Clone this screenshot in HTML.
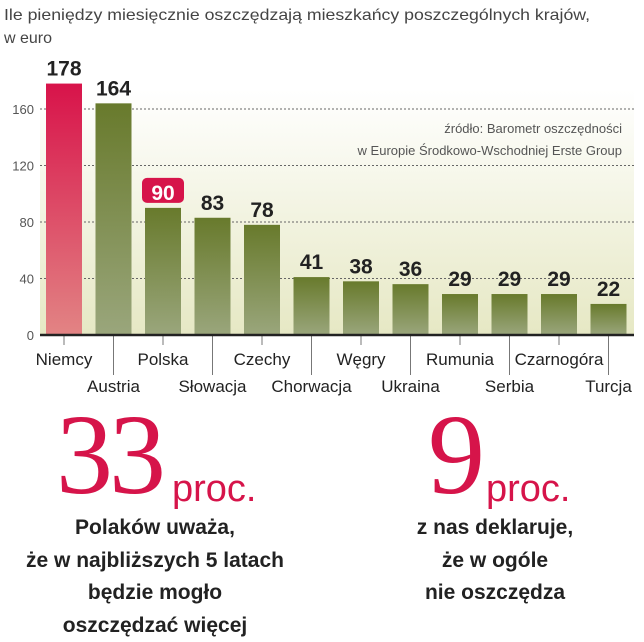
<!DOCTYPE html>
<html><head><meta charset="utf-8">
<style>
body{margin:0;width:644px;height:640px;background:#fff;overflow:hidden;font-family:"Liberation Sans Narrow","Liberation Sans",sans-serif;}
svg{position:absolute;left:0;top:0}
.big{position:absolute;color:#d6144a;font-family:"Liberation Serif",serif;font-weight:normal;}
.txt{position:absolute;font-family:"Liberation Sans Narrow","Liberation Sans",sans-serif;font-weight:bold;font-size:21px;line-height:32.5px;text-align:center;color:#222;}
</style></head><body>
<svg width="644" height="640" id="chart">
<defs>
<linearGradient id="bg" x1="0" y1="0" x2="0" y2="1"><stop offset="0" stop-color="#fff"/><stop offset="1" stop-color="#e6e8c4"/></linearGradient>
<linearGradient id="gb" x1="0" y1="0" x2="0" y2="1"><stop offset="0" stop-color="#687a2c"/><stop offset="1" stop-color="#9aa67c"/></linearGradient>
<linearGradient id="rb" x1="0" y1="0" x2="0" y2="1"><stop offset="0" stop-color="#d8134a"/><stop offset="1" stop-color="#e28484"/></linearGradient>
</defs>
<text x="4" y="20" font-size="16" fill="#444" textLength="586" lengthAdjust="spacingAndGlyphs" font-family="Liberation Sans Narrow, Liberation Sans, sans-serif">Ile pieniędzy miesięcznie oszczędzają mieszkańcy poszczególnych krajów,</text>
<text x="4" y="43" font-size="16" fill="#444" font-family="Liberation Sans Narrow, Liberation Sans, sans-serif">w euro</text>
<rect x="40" y="90" width="594" height="245" fill="url(#bg)"/>
<g id="grid"></g>
<g id="bars"></g>
<text x="622" y="133" font-size="13" fill="#555" text-anchor="end">źródło: Barometr oszczędności</text>
<text x="622" y="155" font-size="13" fill="#555" text-anchor="end">w Europie Środkowo-Wschodniej Erste Group</text>
</svg>
<div class="big" style="left:56px;top:398px;font-size:114px;line-height:114px;letter-spacing:-4px">33</div>
<div class="big" style="left:172px;top:470px;font-size:38px;line-height:38px;font-family:'Liberation Sans Narrow','Liberation Sans',sans-serif">proc.</div>
<div class="txt" style="left:20px;width:270px;top:512px">Polaków uważa,<br>że w najbliższych 5 latach<br>będzie mogło<br>oszczędzać więcej</div>
<div class="big" style="left:428px;top:398px;font-size:114px;line-height:114px">9</div>
<div class="big" style="left:486px;top:470px;font-size:38px;line-height:38px;font-family:'Liberation Sans Narrow','Liberation Sans',sans-serif">proc.</div>
<div class="txt" style="left:380px;width:230px;top:512px">z nas deklaruje,<br>że w ogóle<br>nie oszczędza</div>
<script>
const categories=["Niemcy","Austria","Polska","Słowacja","Czechy","Chorwacja","Węgry","Ukraina","Rumunia","Serbia","Czarnogóra","Turcja"];
const values=[178,164,90,83,78,41,38,36,29,29,29,22];
const ticks=[0,40,80,120,160];
const NS="http://www.w3.org/2000/svg";
const y0=335,pxPer=56.5/40;
const yS=v=>y0-v*pxPer;
const step=49.5,x0=46,bw=36;
const xS=i=>x0+i*step;
function mk(t,a,p){const e=document.createElementNS(NS,t);for(const k in a)e.setAttribute(k,a[k]);p.appendChild(e);return e;}
const grid=document.getElementById('grid'),bars=document.getElementById('bars');
ticks.forEach(t=>{
 if(t>0){const l=mk('line',{x1:40,x2:634,y1:yS(t),y2:yS(t),stroke:'#666','stroke-dasharray':'2,2','stroke-width':1},grid);
 
 }
 const tx=mk('text',{x:34,y:yS(t)+5,'font-size':13,fill:'#555','text-anchor':'end'},grid);tx.textContent=t;
 
 
});
values.forEach((v,i)=>{
 const x=xS(i);
 const r=mk('rect',{x:x,y:yS(v),width:bw,height:v*pxPer,fill:i==0?'url(#rb)':'url(#gb)'},bars);
 
 
 if(i==2){const b=mk('rect',{x:x-3,y:yS(v)-30,width:42,height:25,rx:5,fill:'#d6144a'},bars);
  
  }
 const t=mk('text',{x:x+bw/2,y:yS(v)-8,'font-size':21,'font-weight':'bold',fill:i==2?'#fff':'#222','text-anchor':'middle'},bars);
 t.textContent=v;
 
 
 const cx=x+bw/2,odd=i%2==1;
 const tk=mk('line',{x1:cx,x2:cx,y1:y0,y2:odd?375:345,stroke:'#777','stroke-width':1},bars);
 
 
 const lb=mk('text',{x:cx,y:odd?392:365,'font-size':17,fill:'#222','text-anchor':'middle'},bars);
 lb.textContent=categories[i];
 
 
});
const ax=mk('line',{x1:40,x2:634,y1:y0,y2:y0,stroke:'#222','stroke-width':2.5},bars);


</script>
</body></html>
